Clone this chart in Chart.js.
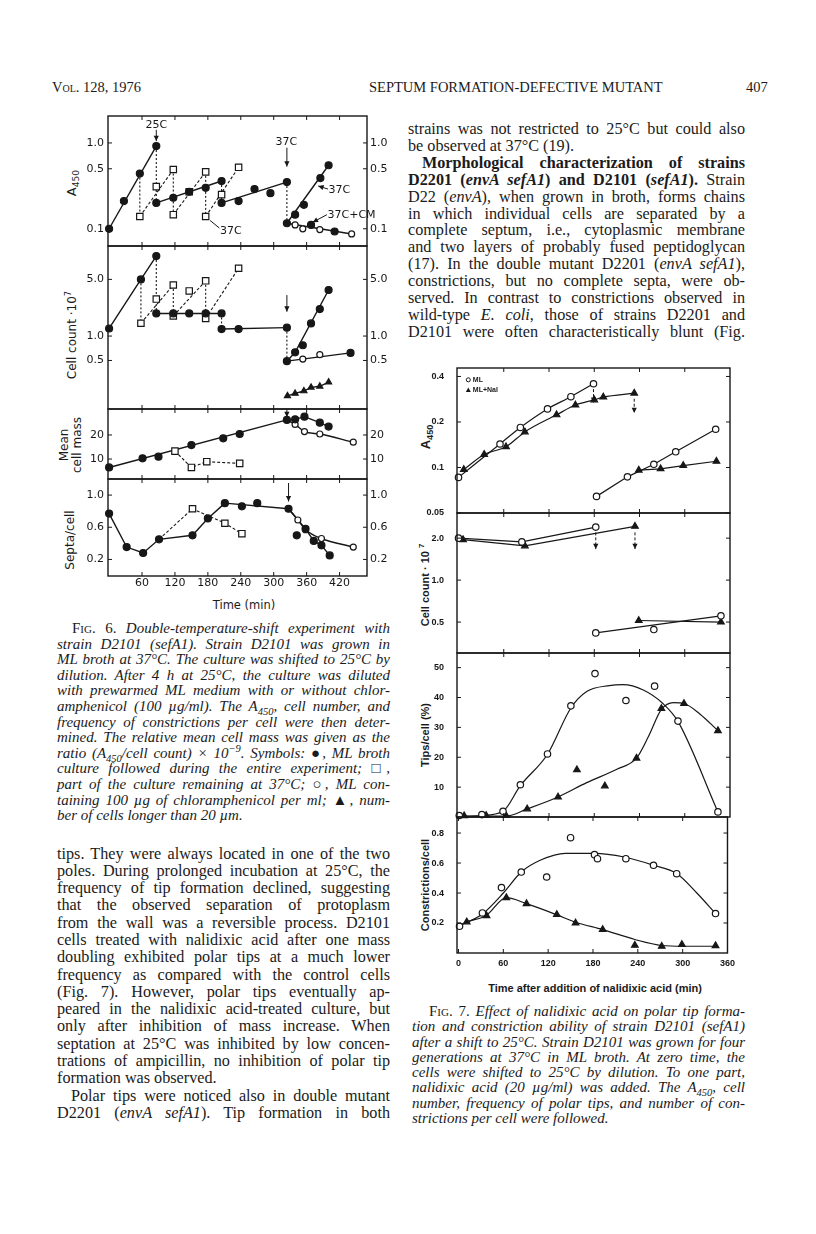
<!DOCTYPE html>
<html>
<head>
<meta charset="utf-8">
<title>Septum formation-defective mutant, p. 407</title>
<script src="https://cdn.jsdelivr.net/npm/chart.js@4.4.1/dist/chart.umd.min.js"></script>
<style>
  html, body { margin: 0; padding: 0; background: #fff; }
  body { width: 816px; height: 1234px; position: relative; overflow: hidden; color: #1b1b1b; font-family: "Liberation Serif", serif; }
  canvas { position: absolute; }
  .blk { position: absolute; font-size: 16.2px; }
  .blk div { white-space: nowrap; text-align: justify; text-align-last: justify; }
  .blk div.e { text-align-last: left; }
  .cap { font-style: italic; font-size: 15px; }
  .sc { font-style: normal; font-variant: small-caps; }
  .up { font-style: normal; }
  .hdr { position: absolute; top: 79px; font-size: 14.5px; white-space: nowrap; }
  .rot { position: absolute; transform: translate(-50%, -50%) rotate(-90deg); white-space: nowrap; text-align: center; }
  .mid { position: absolute; transform: translate(-50%, -50%); white-space: nowrap; }
  .f6 { font-family: "DejaVu Sans", sans-serif; font-size: 12px; line-height: 13px; }
  .f7 { font-family: "Liberation Sans", sans-serif; font-weight: bold; font-size: 11px; }
  sub, sup { font-size: 70%; line-height: 0; }
</style>
</head>
<body>

<div class="hdr" style="left:52px"><span style="font-variant:small-caps">Vol.</span> 128, 1976</div>
<div class="hdr" style="left:369px">SEPTUM FORMATION-DEFECTIVE MUTANT</div>
<div class="hdr" style="left:746px">407</div>

<!-- right column, top -->
<div class="blk" style="left:408px; top:121px; width:337px; line-height:16.9px">
  <div>strains was not restricted to 25°C but could also</div>
  <div class="e">be observed at 37°C (19).</div>
  <div style="text-indent:14px"><b>Morphological characterization of strains</b></div>
  <div><b>D2201 (<i>envA sefA1</i>) and D2101 (<i>sefA1</i>).</b> Strain</div>
  <div>D22 (<i>envA</i>), when grown in broth, forms chains</div>
  <div>in which individual cells are separated by a</div>
  <div>complete septum, i.e., cytoplasmic membrane</div>
  <div>and two layers of probably fused peptidoglycan</div>
  <div>(17). In the double mutant D2201 (<i>envA sefA1</i>),</div>
  <div>constrictions, but no complete septa, were ob-</div>
  <div>served. In contrast to constrictions observed in</div>
  <div>wild-type <i>E. coli</i>, those of strains D2201 and</div>
  <div>D2101 were often characteristically blunt (Fig.</div>
</div>

<!-- Fig. 6 caption -->
<div class="blk cap" style="left:57px; top:621px; width:333px; line-height:15.6px">
  <div style="text-indent:15px"><span class="sc">Fig.</span> <span class="up">6.</span> Double-temperature-shift experiment with</div>
  <div>strain D2101 (sefA1). Strain D2101 was grown in</div>
  <div>ML broth at 37°C. The culture was shifted to 25°C by</div>
  <div>dilution. After 4 h at 25°C, the culture was diluted</div>
  <div>with prewarmed ML medium with or without chlor-</div>
  <div>amphenicol (100 µg/ml). The A<sub>450</sub>, cell number, and</div>
  <div>frequency of constrictions per cell were then deter-</div>
  <div>mined. The relative mean cell mass was given as the</div>
  <div>ratio (A<sub>450</sub>/cell count) × 10<sup>−9</sup>. Symbols: <span class="up">●</span>, ML broth</div>
  <div>culture followed during the entire experiment; <span class="up">□</span>,</div>
  <div>part of the culture remaining at 37°C; <span class="up">○</span>, ML con-</div>
  <div>taining 100 µg of chloramphenicol per ml; <span class="up">▲</span>, num-</div>
  <div class="e">ber of cells longer than 20 µm.</div>
</div>

<!-- left column, bottom -->
<div class="blk" style="left:57px; top:845.5px; width:333px; line-height:17.3px">
  <div>tips. They were always located in one of the two</div>
  <div>poles. During prolonged incubation at 25°C, the</div>
  <div>frequency of tip formation declined, suggesting</div>
  <div>that the observed separation of protoplasm</div>
  <div>from the wall was a reversible process. D2101</div>
  <div>cells treated with nalidixic acid after one mass</div>
  <div>doubling exhibited polar tips at a much lower</div>
  <div>frequency as compared with the control cells</div>
  <div>(Fig. 7). However, polar tips eventually ap-</div>
  <div>peared in the nalidixic acid-treated culture, but</div>
  <div>only after inhibition of mass increase. When</div>
  <div>septation at 25°C was inhibited by low concen-</div>
  <div>trations of ampicillin, no inhibition of polar tip</div>
  <div class="e">formation was observed.</div>
  <div style="text-indent:14px">Polar tips were noticed also in double mutant</div>
  <div>D2201 (<i>envA sefA1</i>). Tip formation in both</div>
</div>

<!-- Fig. 7 caption -->
<div class="blk cap" style="left:412px; top:1004px; width:333px; line-height:15.3px">
  <div style="text-indent:17px"><span class="sc">Fig.</span> <span class="up">7.</span> Effect of nalidixic acid on polar tip forma-</div>
  <div>tion and constriction ability of strain D2101 (sefA1)</div>
  <div>after a shift to 25°C. Strain D2101 was grown for four</div>
  <div>generations at 37°C in ML broth. At zero time, the</div>
  <div>cells were shifted to 25°C by dilution. To one part,</div>
  <div>nalidixic acid (20 µg/ml) was added. The A<sub>450</sub>, cell</div>
  <div>number, frequency of polar tips, and number of con-</div>
  <div class="e">strictions per cell were followed.</div>
</div>

<!-- axis titles, Fig. 6 -->
<div class="rot f6" style="left:71px; top:183px; font-size:13px">A<sub>450</sub></div>
<div class="rot f6" style="left:72px; top:335px">Cell count ·10<sup>7</sup></div>
<div class="rot f6" style="left:71px; top:445px">Mean<br>cell mass</div>
<div class="rot f6" style="left:70px; top:540px">Septa/cell</div>
<div class="mid f6" style="left:244px; top:605px; font-size:11.5px">Time (min)</div>

<!-- axis titles, Fig. 7 -->
<div class="rot f7" style="left:425px; top:437px; font-size:13px">A<sub>450</sub></div>
<div class="rot f7" style="left:425px; top:585px">Cell count · 10 <sup>7</sup></div>
<div class="rot f7" style="left:425px; top:735px">Tips/cell (%)</div>
<div class="rot f7" style="left:425px; top:885px">Constrictions/cell</div>
<div class="mid f7" style="left:595px; top:988px">Time after addition of nalidixic acid (min)</div>

<script>
// ---------- Fig. 6 : double temperature shift, time in min ----------
var f6TimeTicks = [60, 120, 180, 240, 300, 360, 420];

// A450 (log)
var f6A450Ticks = [0.1, 0.5, 1.0];
var f6A450Labels = ['0.1', '0.5', '1.0'];
var f6A450Filled = [[0,0.1],[27,0.21],[56,0.44],[86,0.92],[86,0.20],[117,0.23],[146,0.27],[176,0.30],[205,0.36],
                    [205,0.20],[236,0.21],[265,0.29],[294,0.26],[324,0.35],[324,0.116],[339,0.146],[355,0.19],
                    [385,0.39],[400,0.55],[368,0.111],[411,0.093]];
var f6A450Open = [[339,0.111],[353,0.100],[384,0.098],[442,0.087]];
var f6A450Square = [[56,0.139],[86,0.31],[117,0.49],[117,0.146],[146,0.27],[176,0.46],[176,0.139],[205,0.25],[236,0.52]];
var f6A450Solid = [[[0,0.1],[86,0.92]], [[86,0.20],[205,0.36]], [[205,0.20],[324,0.35]],
                   [[324,0.116],[400,0.55]], [[324,0.116],[442,0.087]]];
var f6A450Dashed = [[[56,0.139],[117,0.49]], [[117,0.146],[176,0.46]], [[176,0.139],[236,0.52]]];
var f6A450Drops = [[56,0.44,0.139],[86,0.92,0.20],[117,0.49,0.146],[176,0.46,0.139],[205,0.36,0.20],[324,0.35,0.116]];

// cell count x 10^7 (log)
var f6CountTicks = [0.5, 1.0, 5.0];
var f6CountLabels = ['0.5', '1.0', '5.0'];
var f6CountFilled = [[0,1.24],[58,5.0],[86,9.7],[86,1.9],[117,1.9],[146,1.9],[176,1.9],[205,1.9],[205,1.22],[236,1.22],
                     [324,1.27],[324,0.49],[339,0.63],[353,0.77],[368,1.43],[384,2.15],[400,3.7],[440,0.62]];
var f6CountOpen = [[353,0.52],[384,0.59]];
var f6CountSquare = [[58,1.44],[86,2.86],[117,4.26],[117,1.77],[146,3.6],[176,4.8],[176,1.65],[236,6.85]];
var f6CountLong = [[325,0.183],[339,0.196],[355,0.21],[368,0.233],[384,0.24],[400,0.27]];
var f6CountSolid = [[[0,1.24],[58,5.0],[86,9.7]], [[86,1.9],[205,1.9]], [[205,1.22],[324,1.27]],
                    [[324,0.49],[339,0.63],[400,3.7]], [[324,0.49],[440,0.62]]];
var f6CountDashed = [[[58,1.44],[117,4.26]], [[117,1.77],[176,4.8]], [[176,1.65],[236,6.85]]];
var f6CountDrops = [[58,5.0,1.44],[86,9.7,1.9],[117,4.26,1.77],[176,4.8,1.65],[205,1.9,1.22],[324,1.27,0.49]];

// relative mean cell mass
var f6MassTicks = [10, 20];
var f6MassLabels = ['10', '20'];
var f6MassFilled = [[0,6.5],[61,10.3],[90,11],[150,15.8],[208,18.6],[238,20.4],[324,26.25],[339,26.5],[356,27.6],[384,25.1],[400,23.5]];
var f6MassOpen = [[339,24.4],[356,21.4],[384,20.4],[445,17]];
var f6MassSquare = [[120,13.3],[150,6.5],[178,8.9],[238,8.2]];

// septa per cell
var f6SeptaTicks = [0.2, 0.6, 1.0];
var f6SeptaLabels = ['0.2', '0.6', '1.0'];
var f6SeptaFilled = [[0,0.77],[32,0.354],[62,0.28],[91,0.45],[152,0.5],[180,0.71],[211,0.90],[242,0.86],[270,0.90],
                     [327,0.83],[342,0.5],[358,0.58],[373,0.43],[387,0.375],[402,0.25]];
var f6SeptaOpen = [[344,0.69],[358,0.57],[387,0.46],[445,0.354]];
var f6SeptaSquare = [[152,0.83],[211,0.65],[242,0.52]];

// ---------- Fig. 7 : nalidixic acid, time in min ----------
var f7TimeTicks = [0, 60, 120, 180, 240, 300, 360];

var f7A450Ticks = [0.05, 0.1, 0.2, 0.4];
var f7A450Labels = ['0.05', '0.1', '0.2', '0.4'];
var f7A450ML = [[0,0.086],[55,0.143],[82,0.184],[118,0.244],[149,0.294],[179,0.358]];
var f7A450Nal = [[7,0.097],[34,0.122],[63,0.137],[88,0.172],[130,0.223],[155,0.259],[180,0.28],[192,0.292],[233,0.31]];
var f7A450MLDiluted = [[183,0.0644],[224,0.0867],[259,0.105],[288,0.127],[341,0.179]];
var f7A450NalDiluted = [[239,0.096],[268,0.098],[298,0.103],[342,0.11]];

var f7CountTicks = [0.5, 1.0, 2.0];
var f7CountLabels = ['0.5', '1.0', '2.0'];
var f7CountML = [[0,2.0],[84,1.88],[182,2.40]];
var f7CountNal = [[6,1.95],[88,1.76],[234,2.43]];
var f7CountMLDiluted = [[182,0.418],[259,0.442],[348,0.554]];
var f7CountNalDiluted = [[239,0.513],[348,0.5]];

var f7TipsTicks = [10, 20, 30, 40, 50];
var f7TipsLabels = ['10', '20', '30', '40', '50'];
var f7TipsML = [[1,0.5],[31,0.8],[59,1.9],[82,10.8],[118,21.1],[149,37.2],[181,48],[222,39],[260,43.8],[291,32.1],[344,1.7]];
var f7TipsMLCurve = [[0,0.3],[31,0.5],[59,1.9],[82,10.5],[118,21],[149,36.5],[170,42],[200,44],[218,44.3],[245,42.5],[271,38],[291,32],[344,1.7]];
var f7TipsNal = [[7.5,0.4],[36.7,0.5],[63,0.5],[91,2.7],[132,6.7],[157,15.8],[194,10.4],[236,19.7],[269,36.3],[299,38],[344,28.9]];
var f7TipsNalCurve = [[0,0.2],[36,0.3],[63,0.3],[91,2.7],[132,6.7],[170,11.5],[210,16],[236,19.7],[252,27],[269,36],[285,38.3],[299,38],[320,34.5],[344,28.9]];

var f7ConTicks = [0.2, 0.4, 0.6, 0.8];
var f7ConLabels = ['0.2', '0.4', '0.6', '0.8'];
var f7ConML = [[1.4,0.178],[32,0.267],[57.5,0.436],[84,0.54],[118,0.507],[150,0.769],[182,0.656],[186,0.629],[224,0.629],[261,0.585],[292,0.529],[344,0.263]];
var f7ConMLCurve = [[0,0.18],[32,0.26],[60,0.40],[84,0.54],[110,0.62],[143,0.665],[182,0.665],[222,0.64],[261,0.585],[292,0.53],[319,0.40],[344,0.263]];
var f7ConNal = [[11,0.207],[37.5,0.249],[64,0.369],[91,0.329],[131.6,0.256],[156.7,0.2],[193,0.156],[236,0.051],[272,0.045],[299,0.056],[344,0.049]];
var f7ConNalCurve = [[0,0.18],[11,0.207],[37,0.25],[64,0.369],[91,0.329],[131,0.256],[157,0.205],[193,0.156],[236,0.09],[272,0.05],[300,0.045],[344,0.045]];

var INK = '#171717';

// ---------- helpers ----------
function xy(a) { return a.map(function (p) { return { x: p[0], y: p[1] }; }); }

function marks(a, kind, r) {
  var filled = kind === 'dot' || kind === 'tri';
  return {
    data: xy(a), showLine: false, order: 0, clip: false,
    pointStyle: kind === 'tri' ? 'triangle' : (kind === 'sq' ? 'rect' : 'circle'),
    pointRadius: r, pointBackgroundColor: filled ? INK : '#fff', pointBorderColor: INK, pointBorderWidth: 1.2
  };
}

function path(a, dash, smooth, w) {
  return {
    data: xy(a), showLine: true, order: 1, clip: false, fill: false, pointRadius: 0,
    borderColor: INK, borderWidth: w || 1.4, borderDash: dash || [],
    cubicInterpolationMode: smooth ? 'monotone' : 'default'
  };
}

function drops(list) {
  return list.map(function (d) { return path([[d[0], d[1]], [d[0], d[2]]], [2, 2], false, 1.1); });
}

function head(ctx, x1, y1, x2, y2, s) {
  var a = Math.atan2(y2 - y1, x2 - x1);
  ctx.beginPath();
  ctx.moveTo(x2, y2);
  ctx.lineTo(x2 - s * Math.cos(a - 0.45), y2 - s * Math.sin(a - 0.45));
  ctx.lineTo(x2 - s * Math.cos(a + 0.45), y2 - s * Math.sin(a + 0.45));
  ctx.closePath();
  ctx.fill();
}

// frame, inward tick marks and the little labels/arrows
Chart.register({
  id: 'decor',
  afterDatasetsDraw: function (chart) {
    var ex = chart.canvas.extra;
    if (!ex) return;
    var ctx = chart.ctx, a = chart.chartArea, sx = chart.scales.x, sy = chart.scales.y;
    ctx.save();
    ctx.strokeStyle = INK; ctx.fillStyle = INK;
    ctx.lineWidth = 1.4;
    ctx.strokeRect(a.left, a.top, a.right - a.left, a.bottom - a.top);
    ctx.lineWidth = 1;
    ctx.beginPath();
    ex.xt.forEach(function (v) {
      var p = sx.getPixelForValue(v);
      ctx.moveTo(p, a.top); ctx.lineTo(p, a.top + 4);
      ctx.moveTo(p, a.bottom); ctx.lineTo(p, a.bottom - 4);
    });
    ex.yt.forEach(function (v) {
      var p = sy.getPixelForValue(v);
      ctx.moveTo(a.left, p); ctx.lineTo(a.left + 4, p);
      ctx.moveTo(a.right, p); ctx.lineTo(a.right - 4, p);
    });
    ctx.stroke();

    ex.notes.forEach(function (n) {
      ctx.setLineDash(n.dash ? [3, 2] : []);
      if (n.text) {
        ctx.font = n.font; ctx.textAlign = n.align || 'center'; ctx.textBaseline = 'middle';
        ctx.fillText(n.text, sx.getPixelForValue(n.x), sy.getPixelForValue(n.y));
      }
      if (n.arrow) {
        var px = sx.getPixelForValue(n.arrow[0]), p1 = sy.getPixelForValue(n.arrow[1]), p2 = sy.getPixelForValue(n.arrow[2]);
        ctx.beginPath(); ctx.moveTo(px, p1); ctx.lineTo(px, p2); ctx.stroke();
        ctx.setLineDash([]);
        head(ctx, px, p1, px, p2, 6);
      }
      if (n.ptr) {
        var x1 = sx.getPixelForValue(n.ptr[0]), y1 = sy.getPixelForValue(n.ptr[1]);
        var x2 = sx.getPixelForValue(n.ptr[2]), y2 = sy.getPixelForValue(n.ptr[3]);
        ctx.beginPath(); ctx.moveTo(x1, y1); ctx.lineTo(x2, y2); ctx.stroke();
        if (n.head) head(ctx, x1, y1, x2, y2, 6);
      }
      if (n.key) {
        var kx = sx.getPixelForValue(n.x), ky = sy.getPixelForValue(n.y);
        ctx.beginPath();
        if (n.key === 'circle') {
          ctx.arc(kx, ky, 2, 0, Math.PI * 2); ctx.stroke();
        } else {
          ctx.moveTo(kx, ky - 2.5); ctx.lineTo(kx + 2.5, ky + 2); ctx.lineTo(kx - 2.5, ky + 2); ctx.closePath(); ctx.fill();
        }
      }
    });
    ctx.restore();
  }
});

function makePanel(box, o) {
  // wide margins so the label padding of the y axes never eats into the plot box
  var ml = o.ml, mr = o.mr, mt = 26, mb = o.xLabels ? o.mbx : 26;
  var w = box.r - box.l + ml + mr, h = box.b - box.t + mt + mb;
  var c = document.createElement('canvas');
  c.width = w; c.height = h;
  c.style.left = (box.l - ml) + 'px'; c.style.top = (box.t - mt) + 'px';
  c.style.width = w + 'px'; c.style.height = h + 'px';
  document.body.appendChild(c);
  c.extra = { xt: o.xTicks, yt: o.yTicks, notes: o.notes || [] };

  function yAxis(pos, width) {
    return {
      type: o.log ? 'logarithmic' : 'linear', position: pos, min: o.ymin, max: o.ymax,
      grid: { display: false, drawTicks: false }, border: { display: false },
      afterBuildTicks: function (s) { s.ticks = o.yTicks.map(function (v) { return { value: v }; }); },
      afterFit: function (s) { s.width = width; },
      ticks: {
        autoSkip: false, padding: pos === 'left' ? o.ypad : 3, color: INK, font: o.tickFont,
        callback: function (v, i) { return o.yLabels[i]; }
      }
    };
  }

  var scales = {
    x: {
      type: 'linear', min: o.xmin, max: o.xmax, display: !!o.xLabels,
      grid: { display: false, drawTicks: false }, border: { display: false },
      afterBuildTicks: function (s) { s.ticks = o.xTicks.map(function (v) { return { value: v }; }); },
      afterFit: function (s) { s.height = o.xLabels ? mb : 0; },
      ticks: { autoSkip: false, maxRotation: 0, padding: o.xpad || 2, color: INK, font: o.tickFont,
        callback: function (v) { return String(v); } }
    },
    y: yAxis('left', ml)
  };
  if (o.right) scales.yr = yAxis('right', mr);

  return new Chart(c, {
    type: 'scatter',
    data: { datasets: o.datasets },
    options: {
      responsive: false, animation: false, events: [],
      layout: { padding: { top: mt, bottom: o.xLabels ? 0 : mb, left: 0, right: o.right ? 0 : mr } },
      plugins: { legend: { display: false }, tooltip: { enabled: false } },
      scales: scales
    }
  });
}

// ---------- Fig. 6 panels ----------
var f6 = { l: 108, r: 367 };
var f6Font = { family: 'DejaVu Sans', size: 11 };
var f6Note = '11px "DejaVu Sans"';
var f6Base = { ml: 50, mr: 30, xmin: -2, xmax: 470, xTicks: f6TimeTicks, ypad: 4, tickFont: f6Font, right: true };

function f6Panel(t, b, extra) {
  var o = Object.assign({}, f6Base, extra);
  return makePanel({ l: f6.l, r: f6.r, t: t, b: b }, o);
}

f6Panel(116, 246, {
  log: true, ymin: 0.063, ymax: 2.06, yTicks: f6A450Ticks, yLabels: f6A450Labels,
  datasets: [
    marks(f6A450Filled, 'dot', 3.5), marks(f6A450Open, 'circle', 3), marks(f6A450Square, 'sq', 4.5)
  ].concat(f6A450Solid.map(function (s) { return path(s); }),
           f6A450Dashed.map(function (s) { return path(s, [3, 2], false, 1.1); }),
           drops(f6A450Drops)),
  notes: [
    { text: '25C', x: 86, y: 1.62, font: f6Note },
    { arrow: [86, 1.42, 1.05] },
    { text: '37C', x: 323, y: 1.035, font: f6Note },
    { arrow: [324, 0.88, 0.53] },
    { text: '37C', x: 400, y: 0.284, font: f6Note, align: 'left' },
    { ptr: [399, 0.29, 381, 0.315], head: true },
    { text: '37C', x: 222, y: 0.093, font: f6Note },
    { ptr: [184, 0.125, 201, 0.102] },
    { text: '37C+CM', x: 398, y: 0.146, font: f6Note, align: 'left' },
    { ptr: [397, 0.146, 371, 0.119], head: true }
  ]
});

f6Panel(246, 409, {
  log: true, ymin: 0.126, ymax: 12.9, yTicks: f6CountTicks, yLabels: f6CountLabels,
  datasets: [
    marks(f6CountFilled, 'dot', 3.5), marks(f6CountOpen, 'circle', 3), marks(f6CountSquare, 'sq', 4.5),
    marks(f6CountLong, 'tri', 3.5), path(f6CountLong)
  ].concat(f6CountSolid.map(function (s) { return path(s); }),
           f6CountDashed.map(function (s) { return path(s, [3, 2], false, 1.1); }),
           drops(f6CountDrops)),
  notes: [{ arrow: [324, 3.2, 2.0] }]
});

f6Panel(409, 479, {
  ymin: 1.7, ymax: 30.8, yTicks: f6MassTicks, yLabels: f6MassLabels,
  datasets: [
    marks(f6MassFilled, 'dot', 3.5), marks(f6MassOpen, 'circle', 3), marks(f6MassSquare, 'sq', 4.5),
    path([f6MassFilled[0], f6MassFilled[6]]),
    path(f6MassFilled.slice(6)),
    path([f6MassFilled[6]].concat(f6MassOpen), null, true),
    path(f6MassSquare, [3, 2], false, 1.1)
  ],
  notes: [{ arrow: [324, 30.8, 27.4] }]
});

f6Panel(479, 576, {
  ymin: -0.006, ymax: 1.2, yTicks: f6SeptaTicks, yLabels: f6SeptaLabels,
  xLabels: true, mbx: 22, xpad: 1,
  datasets: [
    marks(f6SeptaFilled, 'dot', 3.5), marks(f6SeptaOpen, 'circle', 3), marks(f6SeptaSquare, 'sq', 4.5),
    path(f6SeptaFilled.slice(0, 7)),
    path([f6SeptaFilled[6], f6SeptaFilled[9]]),
    path([f6SeptaFilled[9]].concat(f6SeptaFilled.slice(11))),
    path([f6SeptaFilled[9]].concat(f6SeptaOpen), null, true),
    path([f6SeptaFilled[3]].concat(f6SeptaSquare), [3, 2], false, 1.1)
  ],
  notes: [{ arrow: [327, 1.15, 0.92] }]
});

// ---------- Fig. 7 panels ----------
var f7 = { l: 457, r: 730 };
var f7Font = { family: 'Liberation Sans', size: 9, weight: 'bold' };
var f7Base = { ml: 45, mr: 10, xmin: -2, xmax: 360, xTicks: f7TimeTicks.slice(1, 6), ypad: 13, tickFont: f7Font };

function f7Panel(t, b, extra) {
  var o = Object.assign({}, f7Base, extra);
  return makePanel({ l: f7.l, r: f7.r, t: t, b: b }, o);
}

f7Panel(368, 513, {
  log: true, ymin: 0.05, ymax: 0.455, yTicks: f7A450Ticks, yLabels: f7A450Labels,
  datasets: [
    marks(f7A450ML, 'circle', 3.2), marks(f7A450MLDiluted, 'circle', 3.2),
    marks(f7A450Nal, 'tri', 3.8), marks(f7A450NalDiluted, 'tri', 3.8),
    path(f7A450ML, null, true, 1.2), path(f7A450Nal, null, true, 1.2),
    path(f7A450MLDiluted, null, false, 1.2), path(f7A450NalDiluted, null, false, 1.2)
  ],
  notes: [
    { arrow: [179, 0.33, 0.267], dash: true },
    { arrow: [233, 0.285, 0.229], dash: true },
    { key: 'circle', x: 13, y: 0.38 },
    { text: 'ML', x: 19, y: 0.38, align: 'left', font: 'bold 7px "Liberation Sans"' },
    { key: 'tri', x: 13, y: 0.326 },
    { text: 'ML+Nal', x: 19, y: 0.326, align: 'left', font: 'bold 7px "Liberation Sans"' }
  ]
});

f7Panel(513, 653, {
  log: true, ymin: 0.348, ymax: 3.03, yTicks: f7CountTicks, yLabels: f7CountLabels,
  datasets: [
    marks(f7CountML, 'circle', 3.2), marks(f7CountMLDiluted, 'circle', 3.2),
    marks(f7CountNal, 'tri', 3.8), marks(f7CountNalDiluted, 'tri', 3.8),
    path(f7CountML, null, false, 1.2), path(f7CountNal, null, false, 1.2),
    path([f7CountMLDiluted[0], f7CountMLDiluted[2]], null, false, 1.2), path(f7CountNalDiluted, null, false, 1.2)
  ],
  notes: [
    { arrow: [182, 2.2, 1.67], dash: true },
    { arrow: [234, 2.2, 1.67], dash: true }
  ]
});

f7Panel(653, 817, {
  ymin: 0, ymax: 54.9, yTicks: f7TipsTicks, yLabels: f7TipsLabels,
  datasets: [
    marks(f7TipsML, 'circle', 3.2), marks(f7TipsNal, 'tri', 3.8),
    path(f7TipsMLCurve, null, true, 1.2), path(f7TipsNalCurve, null, true, 1.2)
  ]
});

f7Panel(817, 953, {
  ymin: 0, ymax: 0.907, yTicks: f7ConTicks, yLabels: f7ConLabels,
  xTicks: f7TimeTicks, xLabels: true, mbx: 22, xpad: 5,
  datasets: [
    marks(f7ConML, 'circle', 3.2), marks(f7ConNal, 'tri', 3.8),
    path(f7ConMLCurve, null, true, 1.2), path(f7ConNalCurve, null, true, 1.2)
  ]
});

// squeeze any justified line that is wider than its column
document.querySelectorAll('.blk div').forEach(function (el) {
  var ls = 0;
  while (el.scrollWidth > el.clientWidth + 0.5 && ls > -1.5) {
    ls -= 0.1;
    el.style.letterSpacing = ls.toFixed(1) + 'px';
  }
});
</script>
</body>
</html>
